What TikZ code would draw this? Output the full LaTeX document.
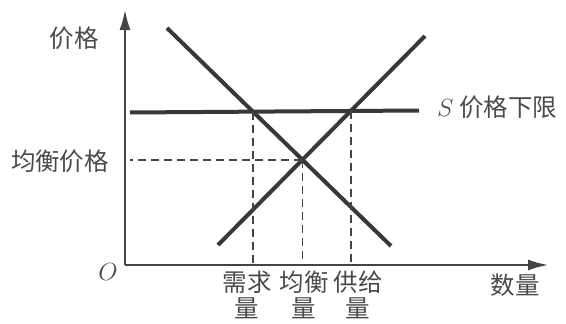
\documentclass[tikz,border=0pt]{standalone}
\usepackage{fontspec}
\newfontfamily\cjk{Noto Sans CJK SC}
\usetikzlibrary{arrows.meta, positioning, calc}
\definecolor{curveink}{HTML}{383838}
\definecolor{axisink}{HTML}{444444}
\definecolor{textink}{HTML}{4A4A4A}

\begin{document}
\begin{tikzpicture}[
    x=1pt, y=-1pt,
    axisline/.style={
        -{Latex[length=20pt, width=11pt]},
        line width=1.8pt,
        axisink
    },
    curveline/.style={
        line width=4pt,
        curveink
    },
    guideline/.style={
        dash pattern=on 8pt off 5pt,
        line width=1.8pt,
        axisink
    },
    cjktext/.style={
        font=\cjk\fontsize{24.5}{26}\selectfont,
        text=textink,
        inner sep=0pt,
        align=center
    },
    mathtext/.style={
        font=\fontsize{25}{26}\selectfont,
        text=textink,
        inner sep=0pt
    }
]
    \useasboundingbox (0,0) rectangle (566,324);

    % axes
    \coordinate (origin) at (125,265);
    \coordinate (ytip) at (125,10);
    \coordinate (xtip) at (548,265);
    \draw[axisline] (origin) -- (ytip);
    \draw[axisline] (origin) -- (xtip);

    % demand, supply and the price floor
    \coordinate (dtop) at (167,28);
    \coordinate (dbot) at (391,246);
    \coordinate (sbot) at (218,245);
    \coordinate (stop) at (425,36);
    \coordinate (floorl) at (130,112.5);
    \coordinate (floorr) at (419,110.5);
    \draw[curveline] (dtop) -- (dbot);
    \draw[curveline] (sbot) -- (stop);
    \draw[curveline] (floorl) -- (floorr);

    \coordinate (eq) at (intersection of dtop--dbot and sbot--stop);
    \coordinate (qd) at (intersection of dtop--dbot and floorl--floorr);
    \coordinate (qs) at (intersection of sbot--stop and floorl--floorr);

    % guides
    \draw[guideline] (eq) -- ($(eq -| origin)+(5,0)$);
    \draw[guideline] (eq) -- (eq |- origin);
    \draw[guideline] (qd) -- (qd |- origin);
    \draw[guideline] (qs) -- (qs |- origin);

    % labels
    \node[mathtext] (o) at (108,272) {$O$};
    \node[cjktext] (pricelabel) at (74,38) {价格};
    \node[cjktext] (eqprice) at (60,161) {均衡价格};
    \node[cjktext, anchor=west] (floorlabel) at (437,107) {$S$ 价格下限};
    \node[cjktext] (qdlabel) at (247,295) {需求\\量};
    \node[cjktext] (eqlabel) at (304,295) {均衡\\量};
    \node[cjktext] (qslabel) at (358,295) {供给\\量};
    \node[cjktext] (qlabel) at (515,285) {数量};
\end{tikzpicture}
\end{document}
